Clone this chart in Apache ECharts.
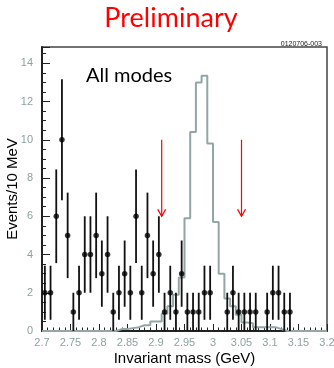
<!DOCTYPE html>
<html>
<head>
<meta charset="utf-8">
<script src="https://cdn.jsdelivr.net/npm/echarts@6/dist/echarts.min.js"></script>
<style>
  html, body { margin: 0; padding: 0; background: #fff; }
  #chart { width: 334px; height: 368px; }
</style>
</head>
<body>
<div id="chart"></div>
<script>
// 10 MeV bins from 2.70 to 3.20 GeV
const binStart = 2.7
const binWidth = 0.01

// data: events per bin
const counts = [2, 2, 6, 10, 5, 1, 2, 4, 4, 5, 3, 4, 1, 2, 3, 2, 6, 2, 5, 3,
  4, 1, 2, 1, 3, 1, 1, 1, 2, 2, 0, 0, 1, 2, 1, 1, 1, 1, 0, 1,
  2, 2, 1, 1, 0, 0, 0, 0, 0, 0]

// signal MC, per bin
const mc = [0, 0, 0, 0, 0, 0, 0, 0, 0, 0, 0, 0, 0, 0.1, 0.1, 0.15, 0.2, 0.3, 0.3, 0.5,
  0.5, 0.9, 1.3, 1.9, 2.8, 5.9, 10.4, 13.0, 13.35, 9.8, 5.7, 3.0, 1.7, 1.3, 0.85, 0.45, 0.4, 0.2, 0.2, 0.2,
  0.2, 0.1, 0, 0, 0, 0, 0, 0, 0, 0]

// signal window cut positions (GeV)
const cuts = [2.91, 3.05]
const arrowTop = 10
const arrowTip = 6

const xTicks = { min: 2.7, max: 3.2, step: 0.05 }
const yTicks = { min: 0, max: 14.85, step: 2 }

const gray = '#8fa1a1'

const points = []
counts.forEach((n, i) => {
  if (n > 0) points.push([binStart + (i + 0.5) * binWidth, n, Math.sqrt(n)])
})

const mcLine = mc.map((v, i) => [binStart + i * binWidth, v])
mcLine.push([binStart + mc.length * binWidth, mc[mc.length - 1]])

const chart = echarts.init(document.getElementById('chart'))

const arrowSeries = cuts.map((c) => ({
  type: 'line',
  data: [
    { value: [c, arrowTop], symbol: 'none' },
    { value: [c, arrowTip], symbol: 'path://M0,0 L5,7 L10,0', symbolSize: [8, 7], symbolOffset: [0, -3.5] }
  ],
  showSymbol: true,
  symbolKeepAspect: false,
  lineStyle: { color: '#ff0000', width: 1.2 },
  itemStyle: { color: 'rgba(0,0,0,0)', borderColor: '#ff0000', borderWidth: 1.2 },
  z: 5,
  silent: true
}))

chart.setOption({
  animation: false,
  title: [
    {
      text: 'Preliminary',
      left: 166,
      textAlign: 'center',
      top: 0,
      textStyle: { color: '#ff0000', fontSize: 27, fontWeight: 'normal', fontFamily: 'Lato' }
    },
    {
      text: '0120706-003',
      right: 7,
      top: 36,
      textStyle: { color: '#222', fontSize: 7, fontWeight: 'normal', fontFamily: 'Liberation Sans' }
    },
    {
      text: 'All modes',
      left: 81,
      top: 61,
      textStyle: { color: '#000', fontSize: 20, fontWeight: 'normal', fontFamily: 'Lato' }
    }
  ],
  grid: {
    left: 42, right: 7, top: 47, bottom: 37,
    outerBoundsMode: 'none',
    show: true, borderColor: '#444', borderWidth: 1.5
  },
  xAxis: {
    type: 'value',
    min: xTicks.min,
    max: xTicks.max,
    interval: xTicks.step,
    name: 'Invariant mass (GeV)',
    nameLocation: 'middle',
    nameGap: 20,
    nameMoveOverlap: false,
    nameTextStyle: { color: '#000', fontSize: 15, fontFamily: 'Liberation Sans' },
    axisLine: { lineStyle: { color: '#222', width: 2 } },
    axisTick: { inside: true, length: 7, lineStyle: { color: '#222', width: 1 } },
    minorTick: { show: true, splitNumber: 5, length: 3.5, lineStyle: { color: '#222', width: 1 } },
    axisLabel: { color: gray, fontSize: 11, fontFamily: 'Liberation Sans', margin: 6 },
    splitLine: { show: false }
  },
  yAxis: {
    type: 'value',
    min: yTicks.min,
    max: yTicks.max,
    interval: yTicks.step,
    name: 'Events/10 MeV',
    nameLocation: 'middle',
    nameGap: 22,
    nameMoveOverlap: false,
    nameTextStyle: { color: '#000', fontSize: 15, fontFamily: 'Liberation Sans' },
    axisLine: { show: true, lineStyle: { color: '#222', width: 2 } },
    axisTick: { inside: true, length: 8, lineStyle: { color: '#222', width: 1 } },
    minorTick: { show: true, splitNumber: 4, length: 4, lineStyle: { color: '#222', width: 1 } },
    axisLabel: { color: gray, fontSize: 11, fontFamily: 'Liberation Sans', margin: 9, showMaxLabel: false },
    splitLine: { show: false }
  },
  series: [
    {
      type: 'line',
      data: mcLine,
      step: 'end',
      symbol: 'none',
      lineStyle: { color: '#93a5a5', width: 2 },
      z: 2,
      silent: true
    },
    {
      type: 'custom',
      data: points,
      z: 3,
      renderItem: (params, api) => {
        const x = api.value(0)
        const y = api.value(1)
        const e = api.value(2)
        const lo = api.coord([x, Math.max(0, y - e)])
        const hi = api.coord([x, y + e])
        return {
          type: 'line',
          shape: { x1: lo[0], y1: lo[1], x2: hi[0], y2: hi[1] },
          style: { stroke: '#111', lineWidth: 1.8 }
        }
      }
    },
    {
      type: 'scatter',
      data: points.map((p) => [p[0], p[1]]),
      symbol: 'circle',
      symbolSize: 5.5,
      itemStyle: { color: '#000' },
      z: 4
    },
    ...arrowSeries
  ]
})
</script>
</body>
</html>
